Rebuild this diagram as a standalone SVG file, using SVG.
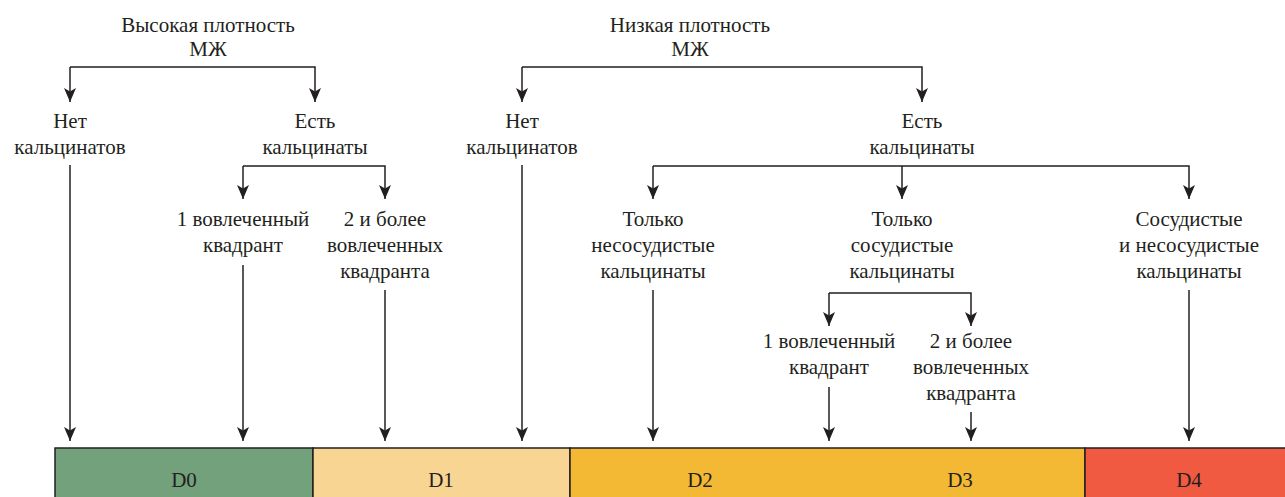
<svg xmlns="http://www.w3.org/2000/svg" width="1285" height="497" viewBox="0 0 1285 497">
<style>
text{font-size:21px;fill:#231f20;text-anchor:middle}
.c line,.c path{stroke:#231f20;stroke-width:1.5;fill:none}
.a{marker-end:url(#ah)}
.bar{stroke:#231f20;stroke-width:1.5}
</style>
<defs>
<marker id="ah" viewBox="0 0 14 12" refX="14" refY="6" markerWidth="14" markerHeight="12" markerUnits="userSpaceOnUse" orient="auto">
<path d="M0,0 L3.5,6 L0,12 L14,6 Z" fill="#231f20" stroke="none"/>
</marker>
</defs>
<g font-family="Liberation Serif, DejaVu Serif, serif">
<g id="bar">
<rect x="55" y="448" width="258" height="52" fill="#72a17c" class="bar"/>
<rect x="313" y="448" width="257" height="52" fill="#f8d593" class="bar"/>
<rect x="570" y="448" width="515" height="52" fill="#f4b934" class="bar"/>
<rect x="1085" y="448" width="205" height="52" fill="#ef5a40" class="bar"/>
<text x="184" y="487">D0</text>
<text x="441" y="487">D1</text>
<text x="700" y="487">D2</text>
<text x="960" y="487">D3</text>
<text x="1189" y="487">D4</text>
</g>
<g id="n-high"><text x="208" y="32">Высокая плотность</text><text x="208" y="56">МЖ</text></g>
<g id="n-high-no"><text x="70" y="128">Нет</text><text x="70" y="154">кальцинатов</text></g>
<g id="n-high-yes"><text x="315" y="128">Есть</text><text x="315" y="154">кальцинаты</text></g>
<g id="n-high-1q"><text x="243" y="226">1 вовлеченный</text><text x="243" y="252">квадрант</text></g>
<g id="n-high-2q"><text x="385" y="226">2 и более</text><text x="385" y="252">вовлеченных</text><text x="385" y="278">квадранта</text></g>
<g id="n-low"><text x="690" y="32">Низкая плотность</text><text x="690" y="56">МЖ</text></g>
<g id="n-low-no"><text x="522" y="128">Нет</text><text x="522" y="154">кальцинатов</text></g>
<g id="n-low-yes"><text x="922" y="128">Есть</text><text x="922" y="154">кальцинаты</text></g>
<g id="n-nonvasc"><text x="653" y="226">Только</text><text x="653" y="252">несосудистые</text><text x="653" y="278">кальцинаты</text></g>
<g id="n-vasc"><text x="902" y="226">Только</text><text x="902" y="252">сосудистые</text><text x="902" y="278">кальцинаты</text></g>
<g id="n-both"><text x="1189" y="226">Сосудистые</text><text x="1189" y="252">и несосудистые</text><text x="1189" y="278">кальцинаты</text></g>
<g id="n-low-1q"><text x="829" y="348">1 вовлеченный</text><text x="829" y="374">квадрант</text></g>
<g id="n-low-2q"><text x="971" y="348">2 и более</text><text x="971" y="374">вовлеченных</text><text x="971" y="400">квадранта</text></g>
</g>
<g class="c" id="connectors">
<path d="M70,67 H315 V102" class="a"/>
<line x1="70" y1="67" x2="70" y2="102" class="a"/>
<path d="M243,166 H385 V199" class="a"/>
<line x1="243" y1="166" x2="243" y2="199" class="a"/>
<path d="M522,67 H922 V102" class="a"/>
<line x1="522" y1="67" x2="522" y2="102" class="a"/>
<path d="M653,166 H1189 V199" class="a"/>
<line x1="653" y1="166" x2="653" y2="199" class="a"/>
<line x1="902" y1="166" x2="902" y2="199" class="a"/>
<path d="M829,293 H971 V326" class="a"/>
<line x1="829" y1="293" x2="829" y2="326" class="a"/>
<line x1="70" y1="165" x2="70" y2="441" class="a"/>
<line x1="243" y1="265" x2="243" y2="441" class="a"/>
<line x1="385" y1="290" x2="385" y2="441" class="a"/>
<line x1="522" y1="165" x2="522" y2="441" class="a"/>
<line x1="653" y1="290" x2="653" y2="441" class="a"/>
<line x1="1189" y1="290" x2="1189" y2="441" class="a"/>
<line x1="829" y1="387" x2="829" y2="441" class="a"/>
<line x1="971" y1="412" x2="971" y2="441" class="a"/>
</g>
</svg>
